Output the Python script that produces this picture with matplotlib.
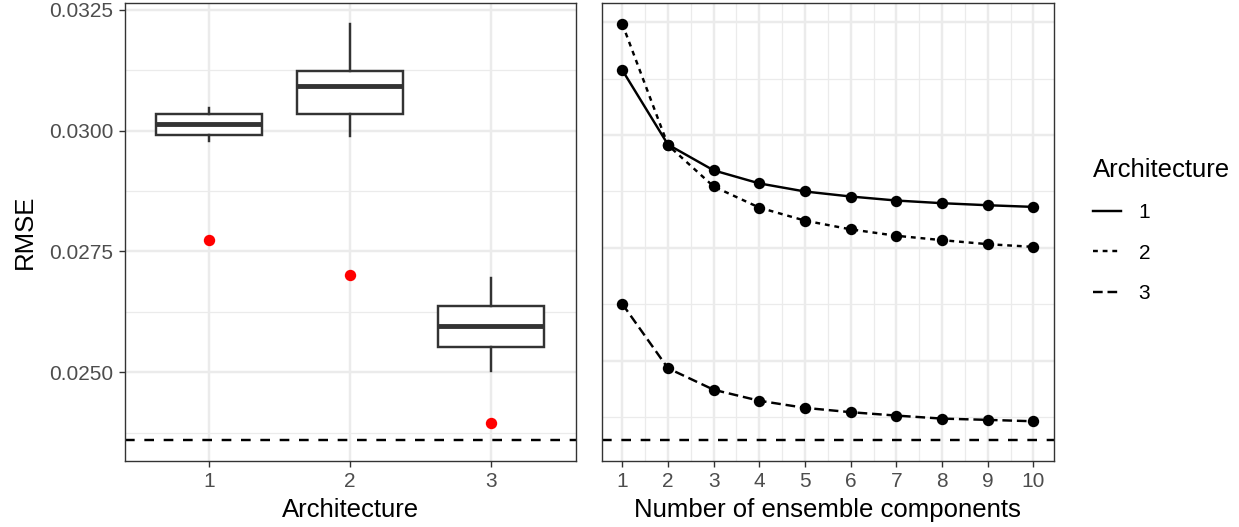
import numpy as np
import matplotlib
matplotlib.use("Agg")
import matplotlib.pyplot as plt
from matplotlib.lines import Line2D
from matplotlib.ticker import FixedLocator

plt.rcParams['font.family'] = ['Liberation Sans', 'DejaVu Sans']
plt.rcParams['lines.scale_dashes'] = False

# left panel: single-model RMSE per architecture (box summaries)
architectures = ["1", "2", "3"]
whisker_low = [0.029788, 0.029885, 0.025021]
box_q1 = [0.029920, 0.030354, 0.025516]
box_median = [0.030133, 0.030917, 0.025949]
box_q3 = [0.030339, 0.031227, 0.026362]
whisker_high = [0.030477, 0.032211, 0.026948]
ensemble_rmse = [0.027728, 0.027014, 0.023941]  # red dots
reference_left = 0.023605

# right panel: RMSE vs number of ensemble components
n_components = [1, 2, 3, 4, 5, 6, 7, 8, 9, 10]
arch1_rmse = [0.031438, 0.029789, 0.029218, 0.028929, 0.028750,
              0.028639, 0.028550, 0.028491, 0.028446, 0.028409]
arch2_rmse = [0.032462, 0.029776, 0.028861, 0.028393, 0.028105,
              0.027912, 0.027770, 0.027673, 0.027584, 0.027524]
arch3_rmse = [0.026263, 0.024838, 0.024362, 0.024118, 0.023961,
              0.023865, 0.023790, 0.023723, 0.023695, 0.023664]
reference_right = 0.023256

y_major = [0.0250, 0.0275, 0.0300, 0.0325]
y_minor = [0.02375, 0.02625, 0.02875, 0.03125]

# ggplot-ish look
GRID = '#EBEBEB'
DARK = '#333333'
LW = 1.75
u = 1.74  # dash unit in points
styles = {"1": '-', "2": (0, (2 * u, 2 * u)), "3": (0, (4 * u, 2 * u))}
hline_style = (0, (4 * u, 4 * u))
TICK_FS = 15
TITLE_FS = 18.5

W, H = 1239, 527
fig = plt.figure(figsize=(W / 100, H / 100), dpi=100)
bottom, top = 460.5, 3
ax1 = fig.add_axes([124.7 / W, (H - bottom) / H, (575.5 - 124.7) / W, (bottom - top) / H])
ax2 = fig.add_axes([601.7 / W, (H - bottom) / H, (1054 - 601.7) / W, (bottom - top) / H])


def pad_limits(lo, hi):
    span = hi - lo
    return lo - 0.05 * span, hi + 0.05 * span


def style_axes(ax):
    ax.set_axisbelow(True)
    for s in ax.spines.values():
        s.set_color(DARK)
        s.set_linewidth(1.0)
    ax.yaxis.set_major_locator(FixedLocator(y_major))
    ax.yaxis.set_minor_locator(FixedLocator(y_minor))
    ax.grid(which='major', color=GRID, lw=1.75)
    ax.grid(which='minor', color=GRID, lw=0.9)
    ax.tick_params(which='major', length=4.5, width=1.0, color=DARK,
                   labelcolor='#4D4D4D', labelsize=TICK_FS, pad=3.6)
    ax.tick_params(which='minor', length=0)


# left: boxplots
stats = []
for i in range(len(architectures)):
    stats.append(dict(med=box_median[i], q1=box_q1[i], q3=box_q3[i],
                      whislo=whisker_low[i], whishi=whisker_high[i], fliers=[]))
pos = np.arange(1, len(architectures) + 1)
style_axes(ax1)
ax1.bxp(stats, positions=pos, widths=0.75, showfliers=False, showcaps=False,
        patch_artist=True,
        boxprops=dict(facecolor='white', edgecolor=DARK, lw=LW),
        medianprops=dict(color=DARK, lw=3.5, solid_capstyle='butt'),
        whiskerprops=dict(color=DARK, lw=LW))
ax1.plot(pos, ensemble_rmse, 'o', color='red', ms=8.2, mec='none', zorder=4)
ax1.axhline(reference_left, color='black', lw=LW, linestyle=hline_style)
ax1.set_xlim(0.4, 3.6)
ax1.set_xticks(pos)
ax1.set_xticklabels(architectures)
ax1.set_yticklabels(["0.0250", "0.0275", "0.0300", "0.0325"])
ax1.set_ylim(*pad_limits(reference_left, max(whisker_high)))
ax1.set_xlabel("Architecture", fontsize=TITLE_FS, labelpad=5)
ax1.set_ylabel("RMSE", fontsize=TITLE_FS, labelpad=9)

# right: ensemble curves
style_axes(ax2)
ax2.xaxis.set_minor_locator(FixedLocator(np.arange(1.5, 10, 1.0)))
curves = {"1": arch1_rmse, "2": arch2_rmse, "3": arch3_rmse}
for name, vals in curves.items():
    ax2.plot(n_components, vals, color='black', lw=LW, linestyle=styles[name])
    ax2.plot(n_components, vals, 'o', color='black', ms=8.2, mec='none')
ax2.axhline(reference_right, color='black', lw=LW, linestyle=hline_style)
ax2.set_xlim(0.55, 10.45)
ax2.set_xticks(n_components)
all_right = arch1_rmse + arch2_rmse + arch3_rmse + [reference_right]
ax2.set_ylim(*pad_limits(min(all_right), max(all_right)))
ax2.tick_params(axis='y', which='both', left=False, labelleft=False)
ax2.set_xlabel("Number of ensemble components", fontsize=TITLE_FS, labelpad=5)

handles = [Line2D([], [], color='black', lw=LW, linestyle=styles[k]) for k in curves]
fig.legend(handles, list(curves.keys()), title="Architecture", loc='upper left',
           bbox_to_anchor=(1074 / W, 1 - 139 / H), frameon=False,
           fontsize=TICK_FS, title_fontsize=TITLE_FS, handlelength=1.35,
           handletextpad=0.85, labelspacing=1.03, alignment='left')

fig.savefig("out.png", dpi=100)
